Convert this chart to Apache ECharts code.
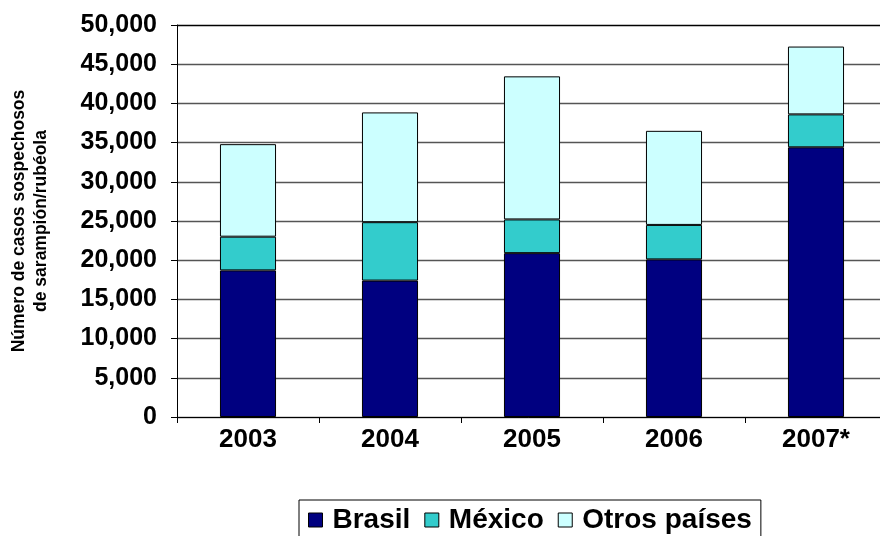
<!DOCTYPE html>
<html>
<head>
<meta charset="utf-8">
<script src="https://cdn.jsdelivr.net/npm/echarts@6/dist/echarts.min.js"></script>
<style>
  html, body { margin: 0; padding: 0; background: #fff; }
  #chart { width: 880px; height: 536px; }
</style>
</head>
<body>
<div id="chart"></div>
<script>
// data
var years = ['2003', '2004', '2005', '2006', '2007*'];
var brasil = [18700, 17400, 20900, 20100, 34400];
var mexico = [4300, 7450, 4300, 4400, 4200];
var otros = [11800, 14000, 18250, 12000, 8650];

var FONT = '"Liberation Sans", Arial, sans-serif';

var chart = echarts.init(document.getElementById('chart'));

function fmt(v) {
    return String(v).replace(/(\d)(?=(\d{3})+$)/g, '$1,');
}

// gridlines: grey, the top one black
var gridColors = [];
for (var i = 0; i < 10; i++) gridColors.push('#555');
gridColors.push('#000');

chart.setOption({
    animation: false,
    textStyle: { fontFamily: FONT },
    grid: { left: 177, top: 25, width: 710, height: 392, outerBoundsMode: 'none', containLabel: false },
    legend: {
        left: 299,
        top: 500,
        padding: [6, 9, 12, 9],
        borderColor: '#000',
        borderWidth: 1,
        itemGap: 14,
        itemWidth: 14,
        itemHeight: 14,
        icon: 'rect',
        itemStyle: { borderColor: '#000', borderWidth: 1 },
        textStyle: { fontFamily: FONT, fontSize: 28, fontWeight: 'bold', color: '#000', padding: [0, 0, 0, 5] },
        data: ['Brasil', 'México', 'Otros países']
    },
    xAxis: {
        type: 'category',
        data: years,
        axisLine: { lineStyle: { color: '#000', width: 1 } },
        axisTick: { show: true, length: 6, lineStyle: { color: '#000' } },
        axisLabel: { fontFamily: FONT, fontSize: 26, fontWeight: 'bold', color: '#000', margin: 10 }
    },
    yAxis: {
        type: 'value',
        min: 0,
        max: 50000,
        interval: 5000,
        name: 'Número de casos sospechosos\nde sarampión/rubéola',
        nameLocation: 'middle',
        nameGap: 125,
        nameTextStyle: { fontFamily: FONT, fontSize: 17.5, fontWeight: 'bold', color: '#000', lineHeight: 22 },
        axisLine: { show: true, lineStyle: { color: '#000', width: 1 } },
        axisTick: { show: true, length: 6, lineStyle: { color: '#000' } },
        axisLabel: { fontFamily: FONT, fontSize: 25, fontWeight: 'bold', color: '#000', margin: 20, formatter: fmt },
        splitLine: { lineStyle: { color: gridColors, width: 1.3 } }
    },
    series: [
        {
            name: 'Brasil', type: 'bar', stack: 'total', barWidth: '39.5%',
            itemStyle: { color: '#000080', borderColor: '#000', borderWidth: 1 },
            data: brasil
        },
        {
            name: 'México', type: 'bar', stack: 'total',
            itemStyle: { color: '#33CCCC', borderColor: '#000', borderWidth: 1 },
            data: mexico
        },
        {
            name: 'Otros países', type: 'bar', stack: 'total',
            itemStyle: { color: '#CCFFFF', borderColor: '#000', borderWidth: 1 },
            data: otros
        }
    ]
});
</script>
</body>
</html>
